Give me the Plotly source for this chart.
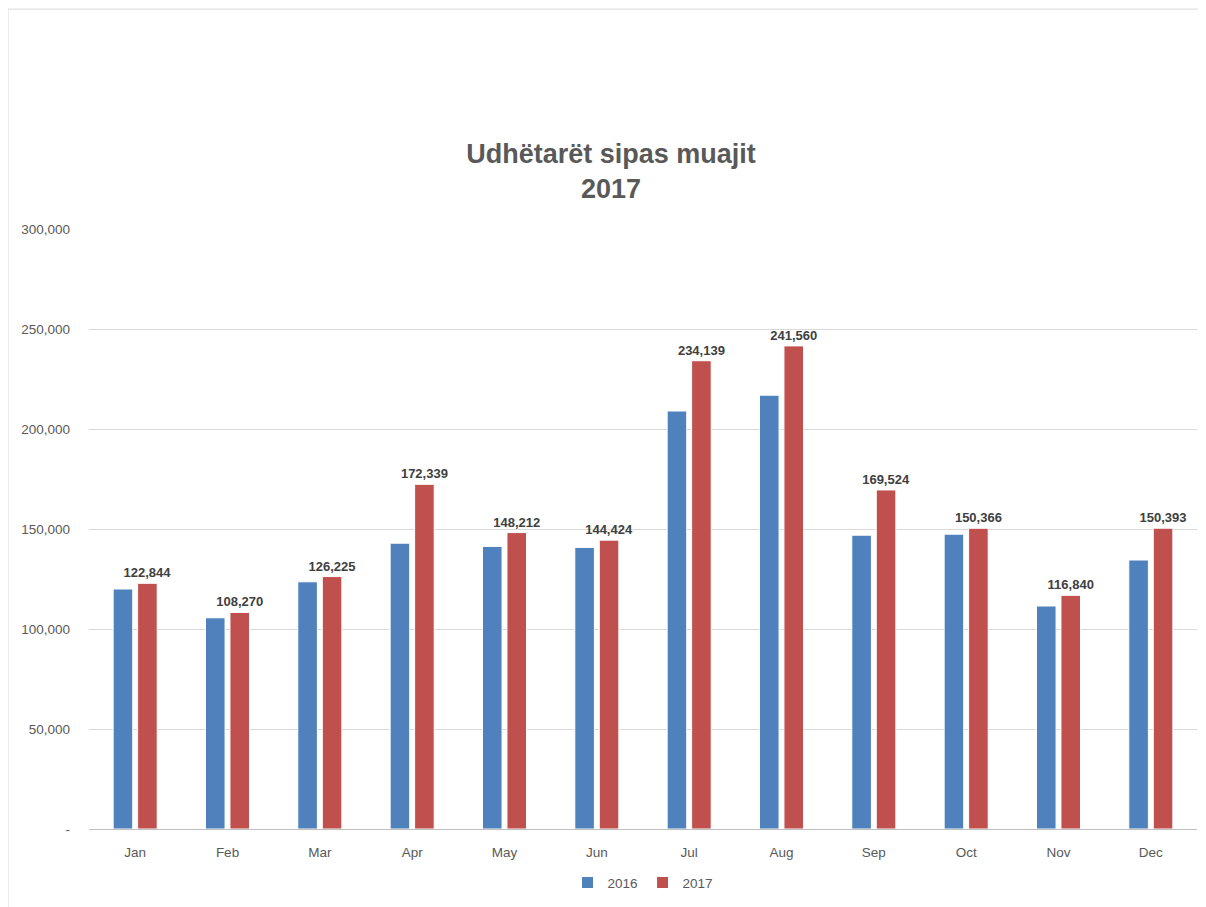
import plotly.graph_objects as go

months = ["Jan", "Feb", "Mar", "Apr", "May", "Jun", "Jul", "Aug", "Sep", "Oct", "Nov", "Dec"]
pax_2016 = [120000, 105600, 123600, 142900, 141300, 140800, 209000, 216900, 146900, 147400, 111500, 134500]
pax_2017 = [122844, 108270, 126225, 172339, 148212, 144424, 234139, 241560, 169524, 150366, 116840, 150393]
y_ticks = [0, 50000, 100000, 150000, 200000, 250000, 300000]
y_labels = ["-", "50,000", "100,000", "150,000", "200,000", "250,000", "300,000"]

FONT = "Liberation Sans"

fig = go.Figure()
fig.add_trace(go.Bar(
    x=months, y=pax_2016, name="2016",
    marker=dict(color="#4F81BD", line=dict(color="white", width=1)),
))
fig.add_trace(go.Bar(
    x=months, y=pax_2017, name="2017",
    marker=dict(color="#C0504D", line=dict(color="white", width=1)),
    texttemplate="%{y:,}", textposition="outside", constraintext="none",
    textfont=dict(family=FONT, size=13, color="#404040", weight="bold"),
    cliponaxis=False,
))

# page body adds an 8px offset, so the figure is 8px smaller and margins shifted
fig.update_layout(
    width=1198, height=899,
    paper_bgcolor="white", plot_bgcolor="white",
    margin=dict(l=81, r=9, t=221, b=75),
    barmode="group", bargap=0.47, bargroupgap=0.2,
    font=dict(family=FONT, color="#595959", size=13),
    title=dict(
        text="<b>Udhëtarët sipas muajit<br>2017</b>",
        x=(611 - 8) / 1198, xanchor="center",
        yref="container", y=1 - 155 / 899, yanchor="top",
        font=dict(family=FONT, size=27, color="#595959"),
    ),
    xaxis=dict(
        showgrid=False, showline=True, linecolor="#BFBFBF", linewidth=1,
        ticks="", ticklabelstandoff=11,
        tickfont=dict(size=13.5, color="#595959"),
    ),
    yaxis=dict(
        range=[0, 300000], tickvals=y_ticks, ticktext=y_labels,
        showgrid=True, gridcolor="#D9D9D9", gridwidth=1,
        zeroline=False, showline=False, ticks="", ticklabelstandoff=18,
        tickfont=dict(size=13.5, color="#595959"),
    ),
    legend=dict(
        orientation="h", x=0.5, xanchor="center",
        y=(832 - 886) / 603, yanchor="middle", itemwidth=30,
        font=dict(size=13.5, color="#595959"),
    ),
    shapes=[dict(
        type="rect", xref="paper", yref="paper",
        x0=-81 / 1108, x1=1111 / 1108, y0=-90 / 603, y1=824 / 603,
        line=dict(color="#D9D9D9", width=1), fillcolor="rgba(0,0,0,0)",
        layer="below",
    )],
)

fig.write_html("out.html")
